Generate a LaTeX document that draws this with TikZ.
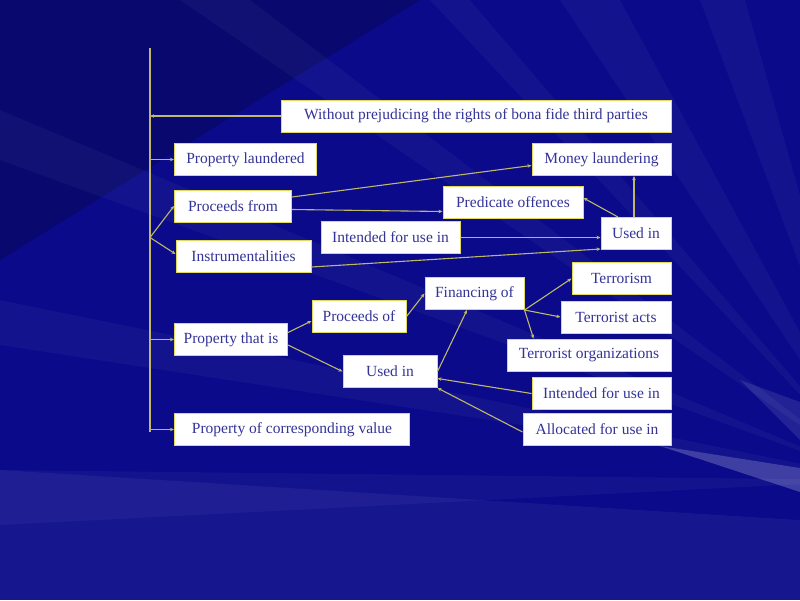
\documentclass[tikz,border=0pt]{standalone}
\usepackage{fontspec}
\setmainfont{Liberation Serif}
\usetikzlibrary{arrows.meta,positioning,calc}
\definecolor{BG}{HTML}{0A0A8A}
\definecolor{TX}{HTML}{333399}
\definecolor{BX}{HTML}{E2DA5C}
\definecolor{LN}{HTML}{BDB86A}

\begin{document}
\begin{tikzpicture}[x=1pt,y=-1pt,
    box/.style={draw=BX, fill=white, line width=1pt, minimum height=32pt,
                inner sep=2pt, font=\fontsize{15.5}{17}\selectfont, text=TX},
    link/.style={draw=LN, line width=1.1pt, -{Stealth[length=4pt,width=3.5pt]}}]

  % background
  \fill[BG] (0,0) rectangle (800,600);
  \useasboundingbox (0,0) rectangle (800,600);
  \begin{scope}
    \clip (0,0) rectangle (800,600);
    \fill[black,opacity=0.2] (0,0) -- (420,0) -- (0,260) -- cycle;
    \foreach \xa/\xb in {180/250, 430/470, 560/620, 700/745}
      \fill[white,opacity=0.04] (\xa,0) -- (\xb,0) -- (880,480) -- cycle;
    \foreach \ya/\yb in {110/160, 300/345, 470/525}
      \fill[white,opacity=0.04] (0,\ya) -- (0,\yb) -- (880,480) -- cycle;
    \fill[white,opacity=0.05] (0,470) -- (0,600) -- (800,600) -- (800,520) -- cycle;
    \fill[white,opacity=0.22] (660,446) -- (800,468) -- (800,492) -- cycle;
    \fill[white,opacity=0.1] (740,380) -- (800,402) -- (800,440) -- cycle;
  \end{scope}

  % spine
  \coordinate (top) at (150,48);
  \coordinate (bot) at (150,432);
  \coordinate (fork) at (150,237.5);
  \draw[LN, line width=1.2pt] (top) -- (bot);

  % boxes
  \node[box, minimum width=390pt] (without) at (476,116) {Without prejudicing the rights of bona fide third parties};
  \node[box, minimum width=142pt] (laundered) at (245.5,159.5) {Property laundered};
  \node[box, minimum width=139pt] (money) at (601.5,159.5) {Money laundering};
  \node[box, minimum width=117pt] (procfrom) at (233,206) {Proceeds from};
  \node[box, minimum width=140pt] (predicate) at (513,202) {Predicate offences};
  \node[box, minimum width=139pt] (intendA) at (390.5,237.5) {Intended for use in};
  \node[box, minimum width=70pt] (usedA) at (636,233.5) {Used in};
  \node[box, minimum width=135pt] (instr) at (243.5,256) {Instrumentalities};
  \node[box, minimum width=99pt] (terrorism) at (621.5,278.5) {Terrorism};
  \node[box, minimum width=99pt] (financing) at (474.5,293.5) {Financing of};
  \node[box, minimum width=94pt] (procof) at (359,316.5) {Proceeds of};
  \node[box, minimum width=110pt] (acts) at (616,317) {Terrorist acts};
  \node[box, minimum width=113pt] (thatis) at (231,339.5) {Property that is};
  \node[box, minimum width=164pt] (orgs) at (589,355) {Terrorist organizations};
  \node[box, minimum width=94pt] (usedB) at (390,371.5) {Used in};
  \node[box, minimum width=139pt] (intendB) at (601.5,393.5) {Intended for use in};
  \node[box, minimum width=235pt] (corresp) at (292,429.5) {Property of corresponding value};
  \node[box, minimum width=148pt] (allocated) at (597,429.5) {Allocated for use in};

  % links from the spine
  \draw[link] (without.west) -- (without.west -| top);
  \draw[link] (laundered.west -| top) -- (laundered.west);
  \draw[link] (fork) -- (procfrom.west);
  \draw[link] (fork) -- ([yshift=2pt]instr.west);
  \draw[link] (thatis.west -| top) -- (thatis.west);
  \draw[link] (corresp.west -| top) -- (corresp.west);

  % upper part
  \draw[link] ([yshift=9pt]procfrom.east) -- ([yshift=-6pt]money.west);
  \draw[link] ([yshift=-3.5pt]procfrom.east) -- ([yshift=-9.5pt]predicate.west);
  \draw[link] (intendA.east) -- (intendA.east -| usedA.west);
  \draw[link] ([yshift=-11pt]instr.east) -- ([yshift=1pt]usedA.south west);
  \draw[link] ([xshift=-2pt]usedA.north) -- ([xshift=32.5pt]money.south);
  \draw[link] ([xshift=-18pt]usedA.north) -- ([yshift=4pt]predicate.east);

  % lower part
  \draw[link] ([yshift=7pt]thatis.east) -- ([yshift=-4.5pt]procof.west);
  \draw[link] ([yshift=-5.5pt]thatis.east) -- (usedB.west);
  \draw[link] (procof.east) -- (financing.west);
  \draw[link] (usedB.east) -- ([xshift=-7.5pt]financing.south);
  \draw[link] (financing.south east) -- (terrorism.west);
  \draw[link] (financing.south east) -- (acts.west);
  \draw[link] (financing.south east) -- ([xshift=27pt]orgs.north west);
  \draw[link] (intendB.west) -- ([yshift=-7pt]usedB.east);
  \draw[link] ([yshift=-2.5pt]allocated.west) -- (usedB.south east);
\end{tikzpicture}
\end{document}
